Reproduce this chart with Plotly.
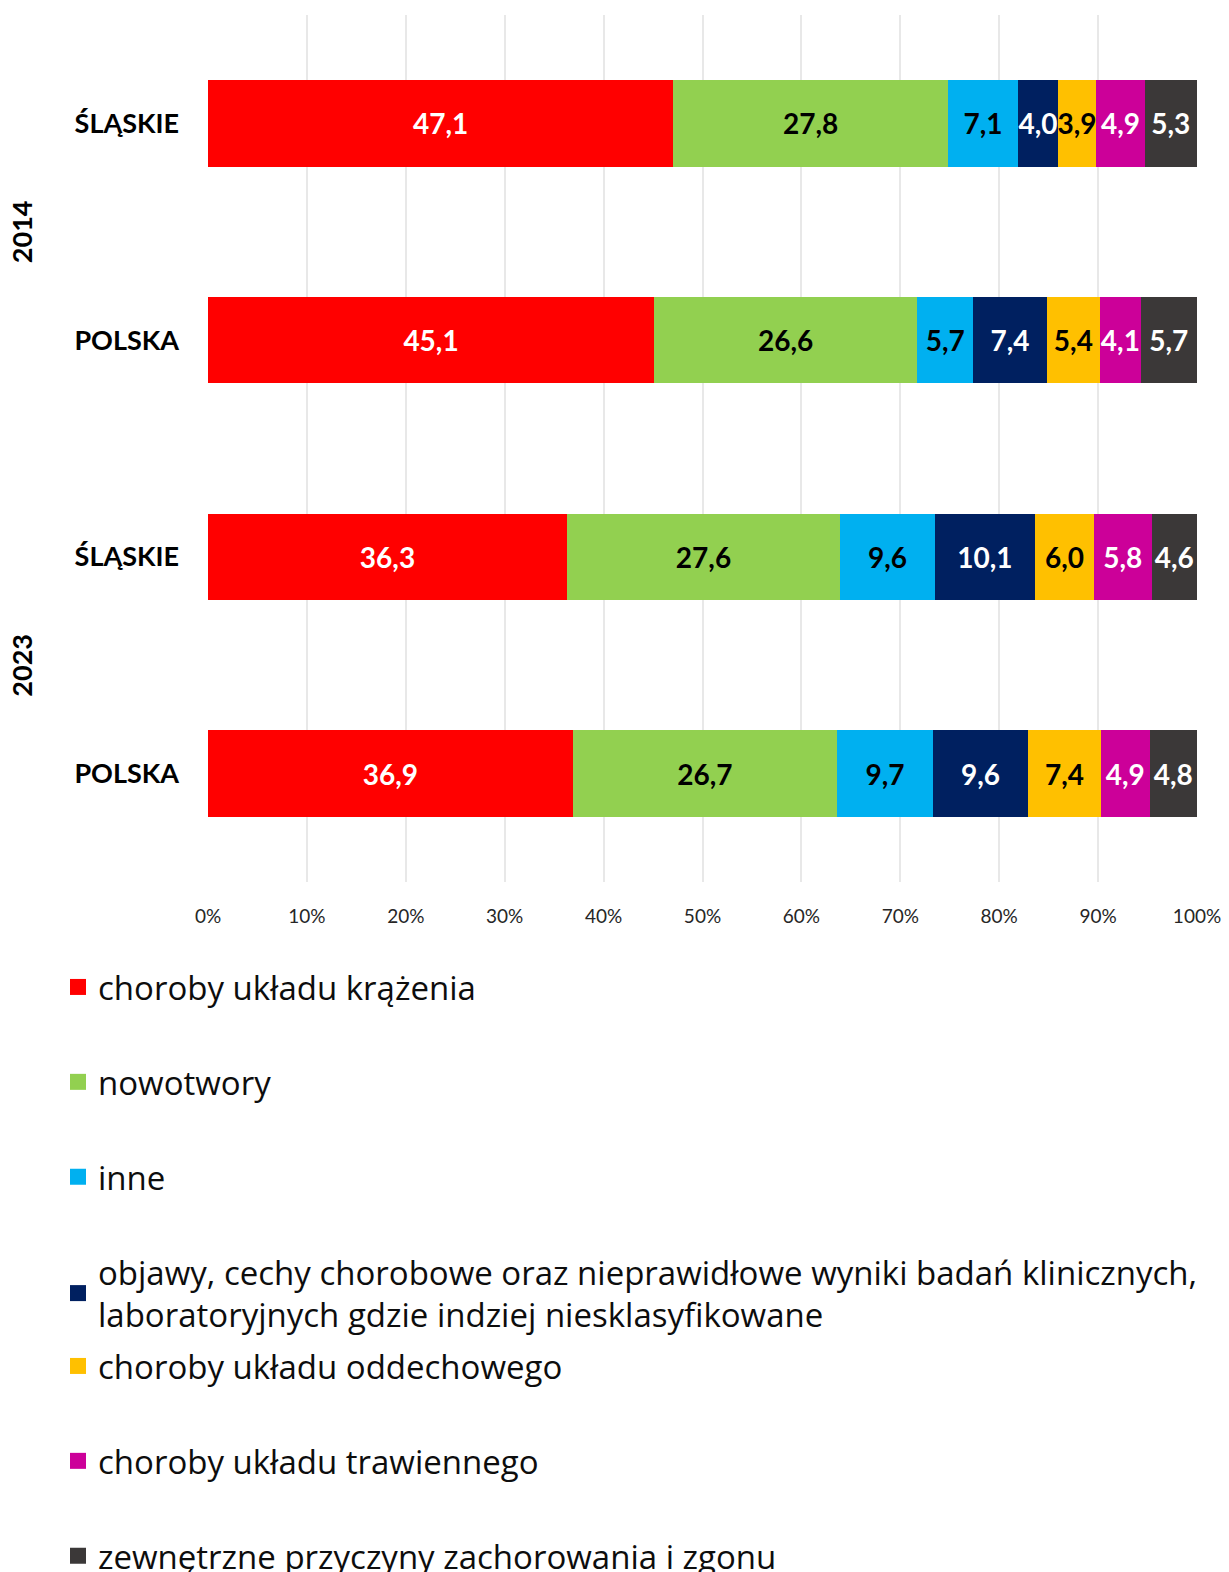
import plotly.graph_objects as go

# ---- data ----
categories = ["ŚLĄSKIE", "POLSKA", "ŚLĄSKIE", "POLSKA"]
years = ["2014", "2014", "2023", "2023"]
year_labels = ["2014", "2023"]

series_names = [
    "choroby układu krążenia",
    "nowotwory",
    "inne",
    "objawy, cechy chorobowe oraz nieprawidłowe wyniki badań klinicznych,<br>laboratoryjnych gdzie indziej niesklasyfikowane",
    "choroby układu oddechowego",
    "choroby układu trawiennego",
    "zewnętrzne przyczyny zachorowania i zgonu",
]
krazenia = [47.1, 45.1, 36.3, 36.9]
nowotwory = [27.8, 26.6, 27.6, 26.7]
inne = [7.1, 5.7, 9.6, 9.7]
objawy = [4.0, 7.4, 10.1, 9.6]
oddechowy = [3.9, 5.4, 6.0, 7.4]
trawienny = [4.9, 4.1, 5.8, 4.9]
zewnetrzne = [5.3, 5.7, 4.6, 4.8]
series_values = [krazenia, nowotwory, inne, objawy, oddechowy, trawienny, zewnetrzne]

x_tick_values = [0, 10, 20, 30, 40, 50, 60, 70, 80, 90, 100]
x_tick_labels = ["0%", "10%", "20%", "30%", "40%", "50%", "60%", "70%", "80%", "90%", "100%"]

# ---- styles ----
colors = ["#FF0000", "#92D050", "#00B0F0", "#002060", "#FFC000", "#CC0099", "#3B3838"]
label_colors = ["white", "black", "black", "white", "black", "white", "white"]
FONT = "Lato"
LEG_FONT = "Open Sans"

W, H = 1229, 1572
fig = go.Figure()

ypos = list(range(len(categories)))

for i, (name, vals) in enumerate(zip(series_names, series_values)):
    fig.add_trace(go.Bar(
        y=ypos, x=vals, orientation="h", width=0.4,
        marker=dict(color=colors[i], line=dict(width=0)),
        text=[f"{v:.1f}".replace(".", ",") for v in vals],
        textposition="inside", insidetextanchor="middle",
        constraintext="none", textangle=0,
        textfont=dict(family=FONT, size=28, color=label_colors[i], weight="bold"),
        showlegend=False, hoverinfo="skip",
    ))

# legend entries (square icons)
for i, name in enumerate(series_names):
    fig.add_trace(go.Scatter(
        x=[None], y=[None], mode="markers", name=name,
        marker=dict(symbol="square", size=16, color=colors[i]),
        legendgroup=f"g{i}",
        legend="legend" if i < 4 else "legend2",
    ))

# year annotations
for k, yl in enumerate(year_labels):
    fig.add_annotation(
        x=(22 - 208) / 986, xref="paper", y=2 * k + 0.5, yref="y",
        text=f"<b>{yl}</b>", textangle=-90, showarrow=False,
        font=dict(family=FONT, size=27, color="black"),
        xanchor="center", yanchor="middle",
    )

legend_common = dict(
    xref="container", yref="container", xanchor="left", yanchor="top",
    font=dict(family=LEG_FONT, size=33, color="#0d0d0d"),
    tracegroupgap=49, itemwidth=30, bgcolor="rgba(0,0,0,0)",
)

fig.update_layout(
    width=W, height=H,
    margin=dict(l=208, r=32, t=15, b=H - 882, autoexpand=False),
    paper_bgcolor="white", plot_bgcolor="white",
    barmode="stack", barnorm="percent",
    font=dict(family=FONT),
    xaxis=dict(
        range=[0, 100], tickvals=x_tick_values, ticktext=x_tick_labels,
        showgrid=True, gridcolor="#E8E8E8", gridwidth=1.5,
        zeroline=False, showline=False,
        tickfont=dict(family=FONT, size=19, color="#262626"),
        ticklabelstandoff=21, fixedrange=True, automargin=False,
    ),
    yaxis=dict(
        tickvals=ypos, ticktext=categories, range=[3.5, -0.5],
        showgrid=False, zeroline=False, showline=False,
        tickfont=dict(family=FONT, size=27, color="black", weight="bold"),
        ticklabelstandoff=28, automargin=False,
    ),
    legend=dict(x=58 / W, y=1 - 959 / H, **legend_common),
    legend2=dict(x=58 / W, y=1 - 1338 / H, **legend_common),
)

fig.write_html("out.html", config={"displayModeBar": False},
               post_script="document.body.style.margin='0';")
